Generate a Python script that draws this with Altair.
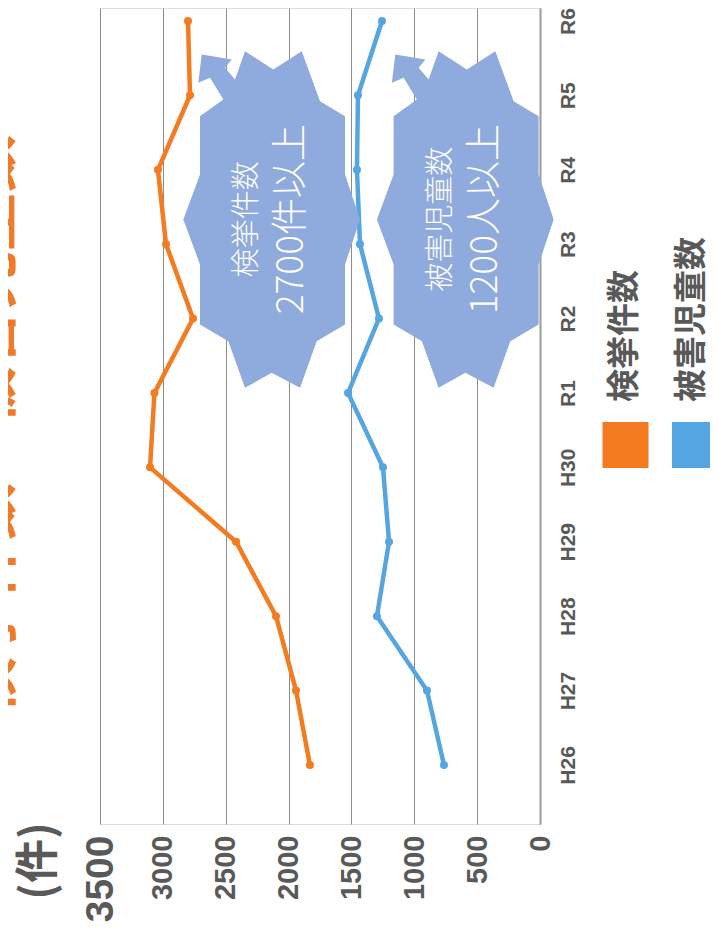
import altair as alt
import pandas as pd

# ---------------- data ----------------
categories = ["H26", "H27", "H28", "H29", "H30", "R1", "R2", "R3", "R4", "R5", "R6"]
arrests = [1830, 1941, 2100, 2418, 3102, 3067, 2760, 2975, 3039, 2784, 2800]
victims = [764, 899, 1297, 1201, 1249, 1527, 1281, 1432, 1456, 1448, 1257]
series_names = ["検挙件数", "被害児童数"]
series_colors = ["#F47B20", "#56A5E3"]
value_ticks = [0, 500, 1000, 1500, 2000, 2500, 3000, 3500]
callout_line1 = ["検挙件数", "被害児童数"]
callout_line2 = ["2700件以上", "1200人以上"]
callout_value = [2150, 610]
callout_category = ["R3", "R3"]
chart_title = "検挙件数・被害児童数"
unit_label = "(件)"

# ---------------- tables ----------------
rows = []
for i, c in enumerate(categories):
    rows.append({"cat": c, "idx": i, "series": series_names[0], "value": arrests[i]})
    rows.append({"cat": c, "idx": i, "series": series_names[1], "value": victims[i]})
df = pd.DataFrame(rows)

callouts = pd.DataFrame({
    "cat": callout_category, "value": callout_value,
    "l1": callout_line1, "l2": callout_line2,
})

GRAY = "#595959"
CALLOUT = "#8FAADC"
NUM_FONT = "Liberation Sans, Arial, sans-serif"
CAT_FONT = "Liberation Sans Narrow, Liberation Sans, Arial, sans-serif"
JP_FONT = "Noto Sans CJK JP, sans-serif"

color_scale = alt.Scale(domain=series_names, range=series_colors)
x_enc = alt.X(
    "value:Q",
    scale=alt.Scale(domain=[0, 3500], reverse=True, nice=False),
    axis=alt.Axis(
        values=value_ticks, format="d", grid=True, gridColor="#8c8c8c", gridWidth=1,
        domain=False, ticks=False, labelAngle=270, labelAlign="right",
        labelBaseline="middle", labelPadding=11,
        labelFontSize={"condition": {"test": "datum.value === 3500", "value": 39}, "value": 29},
        labelFont=NUM_FONT, labelFontWeight="bold", labelColor=GRAY,
        labelFlush=False, labelOverlap=False, title=None,
    ),
)
y_enc = alt.Y(
    "cat:N",
    sort=list(reversed(categories)),
    scale=alt.Scale(type="point", padding=0.484, align=0.18),
    axis=alt.Axis(
        orient="right", domain=True, domainColor="#9a9a9a", domainWidth=2,
        ticks=False, grid=False, labelAngle=270, labelAlign="center",
        labelBaseline="top", labelPadding=17, labelFontSize=21,
        labelFont=CAT_FONT, labelFontWeight="bold", labelColor=GRAY, title=None,
    ),
)

base = alt.Chart(df)
lines = base.mark_line(strokeWidth=4.5).encode(
    x=x_enc, y=y_enc,
    color=alt.Color("series:N", scale=color_scale, legend=None),
    order=alt.Order("idx:Q"),
)
points = base.mark_circle(size=64, opacity=1).encode(
    x="value:Q", y=alt.Y("cat:N", sort=list(reversed(categories))),
    color=alt.Color("series:N", scale=color_scale, legend=None),
)

# callout shape (explosion with arrow), offsets in px around its anchor
shape_pts = [
    (-68, -189.7), (-38, -184.7), (-44.7, -176.3), (-34.7, -164.7), (-24.7, -193),
    (3.6, -174.7), (32, -193), (50.3, -143), (75.3, -128), (75.3, -69.7),
    (90.3, -24.7), (75.3, 20.3), (75.3, 80.3), (47, 97), (30.3, 143.7),
    (2, 128.7), (-24.7, 143.7), (-41.4, 97), (-69.7, 80.3), (-69.7, 20.3),
    (-86.4, -24.7), (-69.7, -69.7), (-69.7, -128), (-46.4, -144.7),
    (-59.7, -166.3), (-71.4, -161.3),
]
path = "M" + " L".join(f"{x},{y}" for x, y in shape_pts) + " Z"

cbase = alt.Chart(callouts)
shapes = cbase.mark_point(
    shape=path, filled=True, size=4, color=CALLOUT, opacity=1, strokeWidth=0
).encode(x="value:Q", y=alt.Y("cat:N", sort=list(reversed(categories))))
text1 = cbase.mark_text(
    angle=270, align="center", baseline="middle", dx=25, dy=-22.5,
    font=JP_FONT, fontSize=29, fontWeight=300, color="white",
).encode(x="value:Q", y=alt.Y("cat:N", sort=list(reversed(categories))), text="l1:N")
text2 = cbase.mark_text(
    angle=270, align="center", baseline="middle", dx=25, dy=22.3,
    font=JP_FONT, fontSize=37, fontWeight=300, color="white",
).encode(x="value:Q", y=alt.Y("cat:N", sort=list(reversed(categories))), text="l2:N")

one = pd.DataFrame({"a": [0]})
title_mark = alt.Chart(one).mark_text(
    angle=270, align="center", baseline="middle", font=JP_FONT,
    fontSize=58, fontWeight="bold", color="#F07A2A", text=chart_title,
).encode(x=alt.value(-107), y=alt.value(417))
unit_mark = alt.Chart(one).mark_text(
    angle=270, align="center", baseline="middle", font=JP_FONT,
    fontSize=44, fontWeight="bold", color=GRAY, text=unit_label,
).encode(x=alt.value(-60), y=alt.value(853))

leg_sq1 = alt.Chart(one).mark_square(size=2116, opacity=1, color=series_colors[0]).encode(
    x=alt.value(525.5), y=alt.value(437))
leg_sq2 = alt.Chart(one).mark_square(size=2116, opacity=1, color=series_colors[1]).encode(
    x=alt.value(595), y=alt.value(437))
leg_t1 = alt.Chart(one).mark_text(
    angle=270, align="left", baseline="middle", font=JP_FONT, fontSize=33,
    fontWeight="bold", color=GRAY, text=series_names[0],
).encode(x=alt.value(525), y=alt.value(394))
leg_t2 = alt.Chart(one).mark_text(
    angle=270, align="left", baseline="middle", font=JP_FONT, fontSize=33,
    fontWeight="bold", color=GRAY, text=series_names[1],
).encode(x=alt.value(592), y=alt.value(394))

chart = alt.layer(
    lines, points, shapes, text1, text2, title_mark, unit_mark,
    leg_sq1, leg_sq2, leg_t1, leg_t2,
).properties(
    width=440, height=816,
    padding={"left": 92, "top": 0, "right": 170, "bottom": 110},
    autosize="none",
).configure_view(stroke=None).configure(background="white")

chart.save("out.html", embed_options={"renderer": "svg", "actions": False})
